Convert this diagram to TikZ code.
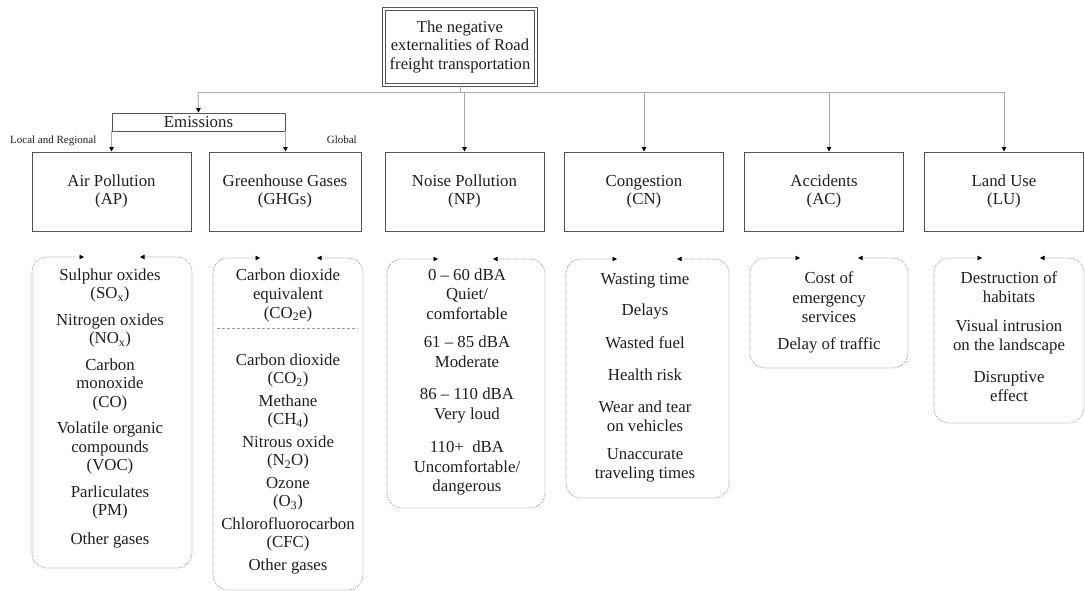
\documentclass[tikz,border=0pt]{standalone}
\usepackage{fontspec}
\setmainfont{Liberation Serif}
\usetikzlibrary{arrows.meta}
\definecolor{txt}{HTML}{1E1E1E}
\definecolor{boxline}{HTML}{555555}
\definecolor{conn}{HTML}{A8A8A8}
\definecolor{dotc}{HTML}{9A9A9A}
\begin{document}
\begin{tikzpicture}[x=1pt,y=-1pt,
  every node/.style={text=txt},
  tip/.style={-{Triangle[length=4.5pt,width=4.5pt,color=black]}},
  connline/.style={draw=conn, line width=0.9pt},
  connarrow/.style={connline, tip},
  catbox/.style={draw=boxline, line width=0.9pt, minimum width=159pt, minimum height=79pt,
    align=center, font=\fontsize{16.8}{18}\selectfont, inner sep=0pt},
  titlebox/.style={draw=boxline, line width=0.8pt, double=white, double distance=2pt,
    minimum width=152.4pt, minimum height=76.4pt, align=center,
    font=\fontsize{16.6}{18.3}\selectfont, inner sep=0pt},
  emisbox/.style={draw=boxline, line width=0.9pt, minimum width=173pt, minimum height=18pt,
    font=\fontsize{16.8}{18}\selectfont, inner sep=0pt},
  smalllabel/.style={font=\fontsize{11}{12}\selectfont, inner sep=0pt},
  listtext/.style={align=center, inner sep=0pt, anchor=north},
  dotbox/.style={draw=dotc, line width=0.7pt, dash pattern=on 1pt off 1pt, rounded corners=15pt,
    {Triangle[length=4.5pt,width=4.5pt,color=black]}-{Triangle[length=4.5pt,width=4.5pt,color=black]}},
  sepline/.style={draw=dotc, line width=0.7pt, dash pattern=on 3pt off 2pt}
]
\useasboundingbox (0,0) rectangle (1085,591);

% title
\node[titlebox] (title) at (460,47) {The negative\\externalities of Road\\freight transportation};

% category boxes
\node[emisbox] (emis) at (198.5,122) {Emissions};
\node[catbox] (ap)  at (111.5,191.5) {Air Pollution\\(AP)};
\node[catbox, minimum width=152pt] (ghg) at (285,191.5) {Greenhouse Gases\\(GHGs)};
\node[catbox] (np)  at (464.5,191.5) {Noise Pollution\\(NP)};
\node[catbox] (cn)  at (644,191.5) {Congestion\\(CN)};
\node[catbox] (ac)  at (824,191.5) {Accidents\\(AC)};
\node[catbox] (lu)  at (1004,191.5) {Land Use\\(LU)};

\node[smalllabel, anchor=base west] (loc) at (10,144) {Local and Regional};
\node[smalllabel, anchor=base east] (glob) at (357,144) {Global};

% connectors
\coordinate (hE) at (198,92);
\coordinate (hNP) at (464.5,92);
\coordinate (hCN) at (644,92);
\coordinate (hAC) at (829,92);
\coordinate (hLU) at (1004,92);
\draw[connline] (title.south) -- (title.south |- hE);
\draw[connline] (hE) -- (hLU);
\draw[connarrow] (hE) -- (emis.north);
\draw[connarrow] (hNP) -- (np.north);
\draw[connarrow] (hCN) -- (cn.north);
\draw[connarrow] (hAC) -- (hAC |- ac.north);
\draw[connarrow] (hLU) -- (lu.north);
\draw[connarrow] (emis.south west) -- (emis.south west |- ap.north);
\draw[connarrow] (emis.south east) -- (emis.south east |- ghg.north);

% list boxes
\draw[dotbox] (84,257) -- (32,257) -- (32,568) -- (192,568) -- (192,257) -- (140,257);
\draw[dotbox] (260,258) -- (213,258) -- (213,590) -- (363,590) -- (363,258) -- (317,258);
\draw[dotbox] (438,259) -- (387,259) -- (387,508) -- (545,508) -- (545,259) -- (493,259);
\draw[dotbox] (617,259) -- (566,259) -- (566,498) -- (729,498) -- (729,259) -- (677,259);
\draw[dotbox] (800,258) -- (750,258) -- (750,368) -- (908,368) -- (908,258) -- (858,258);
\draw[dotbox] (982,258) -- (934,258) -- (934,423) -- (1084,423) -- (1084,258) -- (1040,258);
\draw[sepline] (217,328) -- (358,328);

% list texts
\node[listtext, font=\fontsize{16.8}{18.5}\selectfont] (apl) at (110,268.5)
  {Sulphur oxides\\(SO\textsubscript{x})\\[8pt]Nitrogen oxides\\(NO\textsubscript{x})\\[8pt]Carbon\\monoxide\\(CO)\\[8pt]Volatile organic\\compounds\\(VOC)\\[8pt]Parliculates\\(PM)\\[10pt]Other gases};
\node[listtext, font=\fontsize{16.8}{19}\selectfont] (ghga) at (288,268.5)
  {Carbon dioxide\\equivalent\\(CO\textsubscript{2}e)};
\node[listtext, font=\fontsize{16.8}{18.5}\selectfont] (ghgb) at (288,353.5)
  {Carbon dioxide\\(CO\textsubscript{2})\\[4pt]Methane\\(CH\textsubscript{4})\\[4pt]Nitrous oxide\\(N\textsubscript{2}O)\\[4pt]Ozone\\(O\textsubscript{3})\\[4pt]Chlorofluorocarbon\\(CFC)\\[4pt]Other gases};
\node[listtext, font=\fontsize{16.8}{19.5}\selectfont] (npl) at (467,268.5)
  {0 – 60 dBA\\Quiet/\\comfortable\\[9pt]61 – 85 dBA\\Moderate\\[13pt]86 – 110 dBA\\Very loud\\[14pt]110+\ \ dBA\\Uncomfortable/\\dangerous};
\node[listtext, font=\fontsize{16.8}{19}\selectfont] (cnl) at (645,273.5)
  {Wasting time\\[12pt]Delays\\[14pt]Wasted fuel\\[13pt]Health risk\\[13pt]Wear and tear\\on vehicles\\[9pt]Unaccurate\\traveling times};
\node[listtext, font=\fontsize{16.8}{19.5}\selectfont] (acl) at (829,271.5)
  {Cost of\\emergency\\services\\[7pt]Delay of traffic};
\node[listtext, font=\fontsize{16.8}{18.5}\selectfont] (lul) at (1009,271.5)
  {Destruction of\\habitats\\[11pt]Visual intrusion\\on the landscape\\[14pt]Disruptive\\effect};
\end{tikzpicture}
\end{document}
